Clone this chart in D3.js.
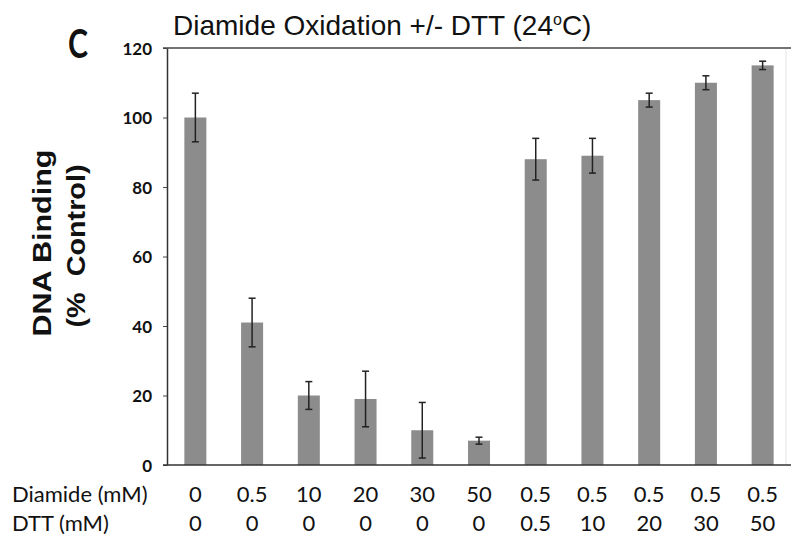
<!DOCTYPE html>
<html lang="en">
<head>
<meta charset="utf-8">
<title>Diamide Oxidation +/- DTT</title>
<style>
body {
  margin: 0;
  background: #fff;
}
svg {
  display: block;
}
.ytick text {
  font-family: Lato, "Open Sans", sans-serif;
  font-weight: bold;
  font-size: 17px;
  fill: #111;
}
.xlab {
  font-family: Lato, "Open Sans", sans-serif;
  font-size: 22px;
  fill: #111;
}
</style>
</head>
<body>
<div id="chart"></div>

<script src="https://cdn.jsdelivr.net/npm/d3@7"></script>
<script>

// data
var diamide = ["0", "0.5", "10", "20", "30", "50", "0.5", "0.5", "0.5", "0.5", "0.5"];
var dtt     = ["0", "0", "0", "0", "0", "0", "0.5", "10", "20", "30", "50"];
var binding = [100, 41, 20, 19, 10, 7, 88, 89, 105, 110, 115];
var errs    = [7, 7, 4, 8, 8, 1, 6, 5, 2, 2, 1.2];
var yTicks  = [0, 20, 40, 60, 80, 100, 120];

var width = 791, height = 535;
var plotL = 167, plotR = 791, plotT = 48, plotB = 465;

var svg = d3.select("#chart").append("svg")
    .attr("width", width)
    .attr("height", height);

var x = d3.scaleBand()
    .domain(d3.range(binding.length))
    .range([plotL, plotR])
    .paddingInner(0.612)
    .paddingOuter(0.306);

var y = d3.scaleLinear()
    .domain([0, 120])
    .range([plotB, plotT]);

// faint right border
svg.append("line")
    .attr("x1", 786).attr("x2", 786)
    .attr("y1", plotT).attr("y2", plotB)
    .attr("stroke", "#e4e4e4")
    .attr("stroke-width", 1);

// bars
svg.selectAll("rect.bar")
    .data(binding)
  .enter().append("rect")
    .attr("class", "bar")
    .attr("x", function(d, i) { return x(i); })
    .attr("width", x.bandwidth())
    .attr("y", function(d) { return y(d); })
    .attr("height", function(d) { return y(0) - y(d); })
    .attr("fill", "#8c8c8c");

// error bars
var eb = svg.selectAll("g.err")
    .data(binding)
  .enter().append("g")
    .attr("class", "err")
    .attr("stroke", "#222")
    .attr("stroke-width", 1.5);

eb.append("line")
    .attr("x1", function(d, i) { return x(i) + x.bandwidth() / 2; })
    .attr("x2", function(d, i) { return x(i) + x.bandwidth() / 2; })
    .attr("y1", function(d, i) { return y(d + errs[i]); })
    .attr("y2", function(d, i) { return y(d - errs[i]); });

[1, -1].forEach(function(s) {
  eb.append("line")
      .attr("x1", function(d, i) { return x(i) + x.bandwidth() / 2 - 3.5; })
      .attr("x2", function(d, i) { return x(i) + x.bandwidth() / 2 + 3.5; })
      .attr("y1", function(d, i) { return y(d + s * errs[i]); })
      .attr("y2", function(d, i) { return y(d + s * errs[i]); });
});

// y axis
var yAxis = svg.append("g")
    .attr("class", "ytick")
    .attr("transform", "translate(" + plotL + ",0)")
    .call(d3.axisLeft(y).tickValues(yTicks).tickSize(4).tickPadding(11).tickSizeOuter(0));

yAxis.select(".domain").attr("stroke", "#333").attr("stroke-width", 1.5);
yAxis.selectAll(".tick line").attr("stroke", "#444");
yAxis.selectAll(".tick text").attr("dy", "0.36em");

// bottom and top frame lines
svg.append("line")
    .attr("x1", plotL - 4).attr("x2", plotR)
    .attr("y1", y(0)).attr("y2", y(0))
    .attr("stroke", "#333").attr("stroke-width", 1.5);

svg.append("line")
    .attr("x1", plotL - 4).attr("x2", plotR)
    .attr("y1", y(120)).attr("y2", y(120))
    .attr("stroke", "#444").attr("stroke-width", 1.5);

// category rows under the axis
svg.append("text").attr("class", "xlab")
    .attr("x", 12).attr("y", 502).text("Diamide (mM)");
svg.append("text").attr("class", "xlab")
    .attr("x", 12).attr("y", 531).text("DTT (mM)");

svg.selectAll("text.dia")
    .data(diamide)
  .enter().append("text")
    .attr("class", "xlab dia")
    .attr("x", function(d, i) { return x(i) + x.bandwidth() / 2; })
    .attr("y", 502)
    .attr("text-anchor", "middle")
    .text(function(d) { return d; });

svg.selectAll("text.dtt")
    .data(dtt)
  .enter().append("text")
    .attr("class", "xlab dtt")
    .attr("x", function(d, i) { return x(i) + x.bandwidth() / 2; })
    .attr("y", 531)
    .attr("text-anchor", "middle")
    .text(function(d) { return d; });

// y label, two lines
svg.append("text")
    .attr("transform", "translate(51,243) rotate(-90)")
    .attr("text-anchor", "middle")
    .attr("font-family", "'Liberation Sans', Arial, sans-serif")
    .attr("font-weight", "bold")
    .attr("font-size", 26)
    .attr("textLength", 187)
    .attr("lengthAdjust", "spacingAndGlyphs")
    .attr("fill", "#111")
    .text("DNA Binding");

svg.append("text")
    .attr("transform", "translate(85,246) rotate(-90)")
    .attr("text-anchor", "middle")
    .attr("font-family", "'Liberation Sans', Arial, sans-serif")
    .attr("font-weight", "bold")
    .attr("font-size", 26)
    .attr("textLength", 163)
    .attr("lengthAdjust", "spacingAndGlyphs")
    .attr("fill", "#111")
    .style("white-space", "pre")
    .text("(%  Control)");

// title
var title = svg.append("text")
    .attr("transform", "translate(173,35)")
    .attr("font-family", "'Liberation Sans', Arial, sans-serif")
    .attr("font-size", 28)
    .attr("fill", "#111");
title.append("tspan").text("Diamide Oxidation +/- DTT (24");
title.append("tspan").attr("font-size", 16).attr("dy", -10).text("o");
title.append("tspan").attr("dy", 10).text("C)");

// panel letter
svg.append("text")
    .attr("x", 68).attr("y", 58)
    .attr("font-family", "Lato, sans-serif")
    .attr("font-weight", "bold")
    .attr("font-size", 41)
    .attr("textLength", 20)
    .attr("lengthAdjust", "spacingAndGlyphs")
    .attr("fill", "#111")
    .text("C");

</script>
</body>
</html>
